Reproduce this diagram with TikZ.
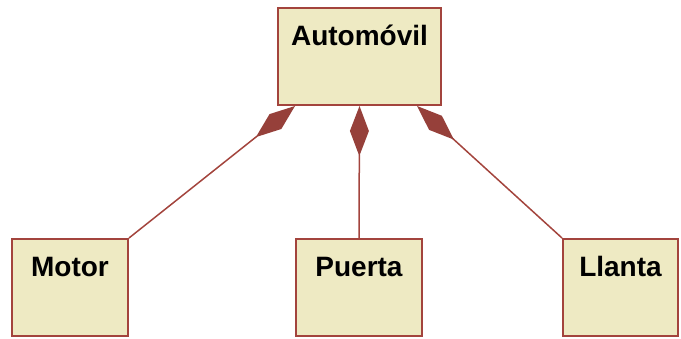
\documentclass[tikz,border=0pt]{standalone}
\usepackage{fontspec}
\setmainfont{Liberation Sans}
\usetikzlibrary{arrows.meta}

\definecolor{rahmen}{HTML}{A3443D}
\definecolor{fuellung}{HTML}{EEEAC3}
\definecolor{raute}{HTML}{96403A}

\begin{document}
\begin{tikzpicture}
		[
		x=1pt, y=-1pt, font=\fontsize{28}{32}\selectfont\bfseries,
		klasse/.style={draw=rahmen, fill=fuellung, line width=2pt, inner sep=0pt,
			text height=38pt, text depth=59pt},
		teil/.style={draw=rahmen, line width=1.5pt,
			{Diamond[length=50pt,width=19pt,fill=raute,line width=0pt]}-}
		%Komposition: gefuellte Raute am Ganzen
		]
		
		%Rahmen des Bildes
		\useasboundingbox (0,0) rectangle (681,339);
		
		%Klasse oben
		\node[klasse, minimum width=163pt] (auto) at (359.5,56.5) {Automóvil};
		
		%Klassen unten
		\node[klasse, minimum width=116pt] (motor) at (70,287.5) {Motor};
		\node[klasse, minimum width=126pt] (puerta) at (359,287.5) {Puerta};
		\node[klasse, minimum width=115pt] (llanta) at (620.5,287.5) {Llanta};
		
		%Verbindungen
		\draw[teil] ([xshift=18pt]auto.south west) -- (motor.north east);
		\draw[teil] (auto.south) -- (puerta.north);
		\draw[teil] ([xshift=-25pt]auto.south east) -- (llanta.north west);
	\end{tikzpicture}
\end{document}
